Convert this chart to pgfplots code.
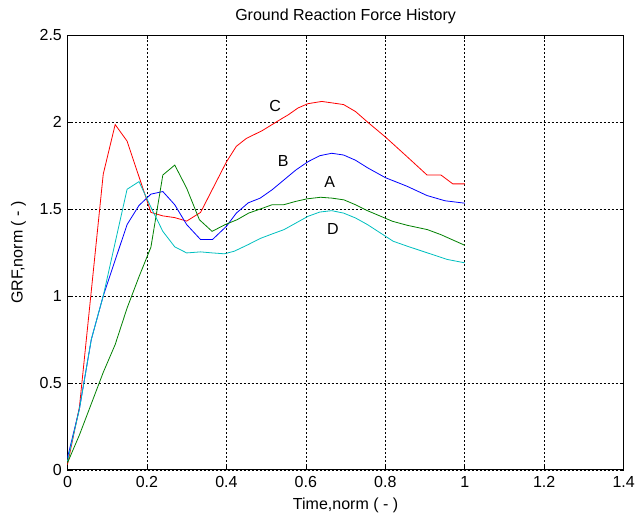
\documentclass[border=0pt]{standalone}
\usepackage{pgfplots}
\pgfplotsset{compat=1.18}
\usepackage{fontspec}
\setmainfont{Liberation Sans}
\definecolor{mred}{rgb}{1,0,0}
\definecolor{mblue}{rgb}{0,0,1}
\definecolor{mgreen}{rgb}{0,0.5,0}
\definecolor{mcyan}{rgb}{0,0.75,0.75}
\begin{document}
\begin{tikzpicture}
\fontsize{12}{14}\selectfont
\begin{axis}[
  name=ax,
  scale only axis,
  width=417pt, height=326pt,
  xmin=0, xmax=1.4, ymin=0, ymax=2.5,
  xtick={0,0.2,...,1.4}, ytick={0,0.5,...,2.5},
  /pgf/number format/assume math mode=true,
  ticklabel style={font=\fontsize{12}{14}\selectfont, inner sep=0pt},
  xticklabel style={yshift=-5pt},
  yticklabel style={xshift=-4pt},
  tick align=inside, major tick length=3pt,
  tick style={black, line width=0.4pt},
  grid=major,
  grid style={black, line width=0.4pt, dash pattern=on 1.5pt off 1.5pt},
  axis line style={black, line width=0.6pt},
  title={Ground Reaction Force History},
  every axis title shift=0pt,
  title style={at={(axis description cs:0.5,1.043)}, anchor=center, inner sep=0pt, font=\fontsize{12}{14}\selectfont},
  xlabel={Time,norm ( - )},
  ylabel={GRF,norm ( - )},
  xlabel style={at={(axis description cs:0.5,-0.081)}, anchor=center, inner sep=0pt, font=\fontsize{12}{14}\selectfont},
  ylabel style={at={(axis description cs:-0.088,0.5)}, anchor=center, inner sep=0pt, rotate=0, font=\fontsize{12}{14}\selectfont},
  clip=false,
]
% C
\addplot[mred, line width=0.6pt] coordinates {
(0,0.03)(0.03,0.36)(0.09,1.70)(0.12,1.985)(0.15,1.89)(0.21,1.48)(0.24,1.46)(0.27,1.45)
(0.30,1.43)(0.335,1.48)(0.40,1.77)(0.425,1.86)(0.45,1.905)(0.49,1.95)(0.54,2.02)(0.555,2.04)
(0.58,2.08)(0.605,2.105)(0.64,2.118)(0.665,2.11)(0.695,2.10)(0.725,2.06)(0.755,2.0)
(0.80,1.914)(0.855,1.80)(0.905,1.695)(0.94,1.695)(0.97,1.644)(1.0,1.644)};
% B
\addplot[mblue, line width=0.6pt] coordinates {
(0,0.07)(0.03,0.35)(0.06,0.75)(0.09,1.0)(0.15,1.41)(0.18,1.52)(0.21,1.585)(0.24,1.60)
(0.27,1.524)(0.30,1.41)(0.335,1.324)(0.365,1.324)(0.40,1.40)(0.425,1.476)(0.455,1.535)
(0.485,1.562)(0.515,1.61)(0.545,1.667)(0.575,1.724)(0.605,1.771)(0.635,1.806)(0.665,1.82)
(0.695,1.81)(0.725,1.78)(0.755,1.737)(0.80,1.68)(0.855,1.63)(0.905,1.577)(0.95,1.547)(1.0,1.533)};
% A
\addplot[mgreen, line width=0.6pt] coordinates {
(0,0.04)(0.03,0.20)(0.06,0.38)(0.09,0.56)(0.12,0.72)(0.15,0.93)(0.18,1.11)(0.21,1.28)
(0.24,1.695)(0.27,1.752)(0.30,1.619)(0.332,1.438)(0.364,1.371)(0.397,1.41)(0.427,1.438)
(0.456,1.476)(0.486,1.50)(0.515,1.524)(0.544,1.524)(0.574,1.543)(0.603,1.558)(0.637,1.567)
(0.666,1.562)(0.696,1.552)(0.725,1.524)(0.755,1.49)(0.818,1.429)(0.855,1.406)(0.906,1.381)
(0.94,1.352)(1.0,1.291)};
% D
\addplot[mcyan, line width=0.6pt] coordinates {
(0,0.05)(0.03,0.35)(0.06,0.75)(0.09,1.0)(0.15,1.613)(0.18,1.657)(0.21,1.51)(0.24,1.371)
(0.27,1.282)(0.30,1.247)(0.335,1.253)(0.365,1.247)(0.395,1.242)(0.42,1.257)(0.455,1.295)
(0.485,1.33)(0.515,1.356)(0.545,1.381)(0.575,1.419)(0.605,1.457)(0.635,1.482)(0.665,1.49)
(0.695,1.476)(0.725,1.448)(0.755,1.41)(0.82,1.314)(0.855,1.286)(0.905,1.248)(0.955,1.21)(1.0,1.19)};
\node[font=\fontsize{12}{14}\selectfont] at (axis cs:0.523,2.09) {C};
\node[font=\fontsize{12}{14}\selectfont] at (axis cs:0.543,1.775) {B};
\node[font=\fontsize{12}{14}\selectfont] at (axis cs:0.66,1.657) {A};
\node[font=\fontsize{12}{14}\selectfont] at (axis cs:0.668,1.385) {D};
\end{axis}
\path (ax.south west) ++(-50.6pt,-34.5pt);
\path (ax.north east) ++(8.5pt,26.25pt);
\end{tikzpicture}
\end{document}
